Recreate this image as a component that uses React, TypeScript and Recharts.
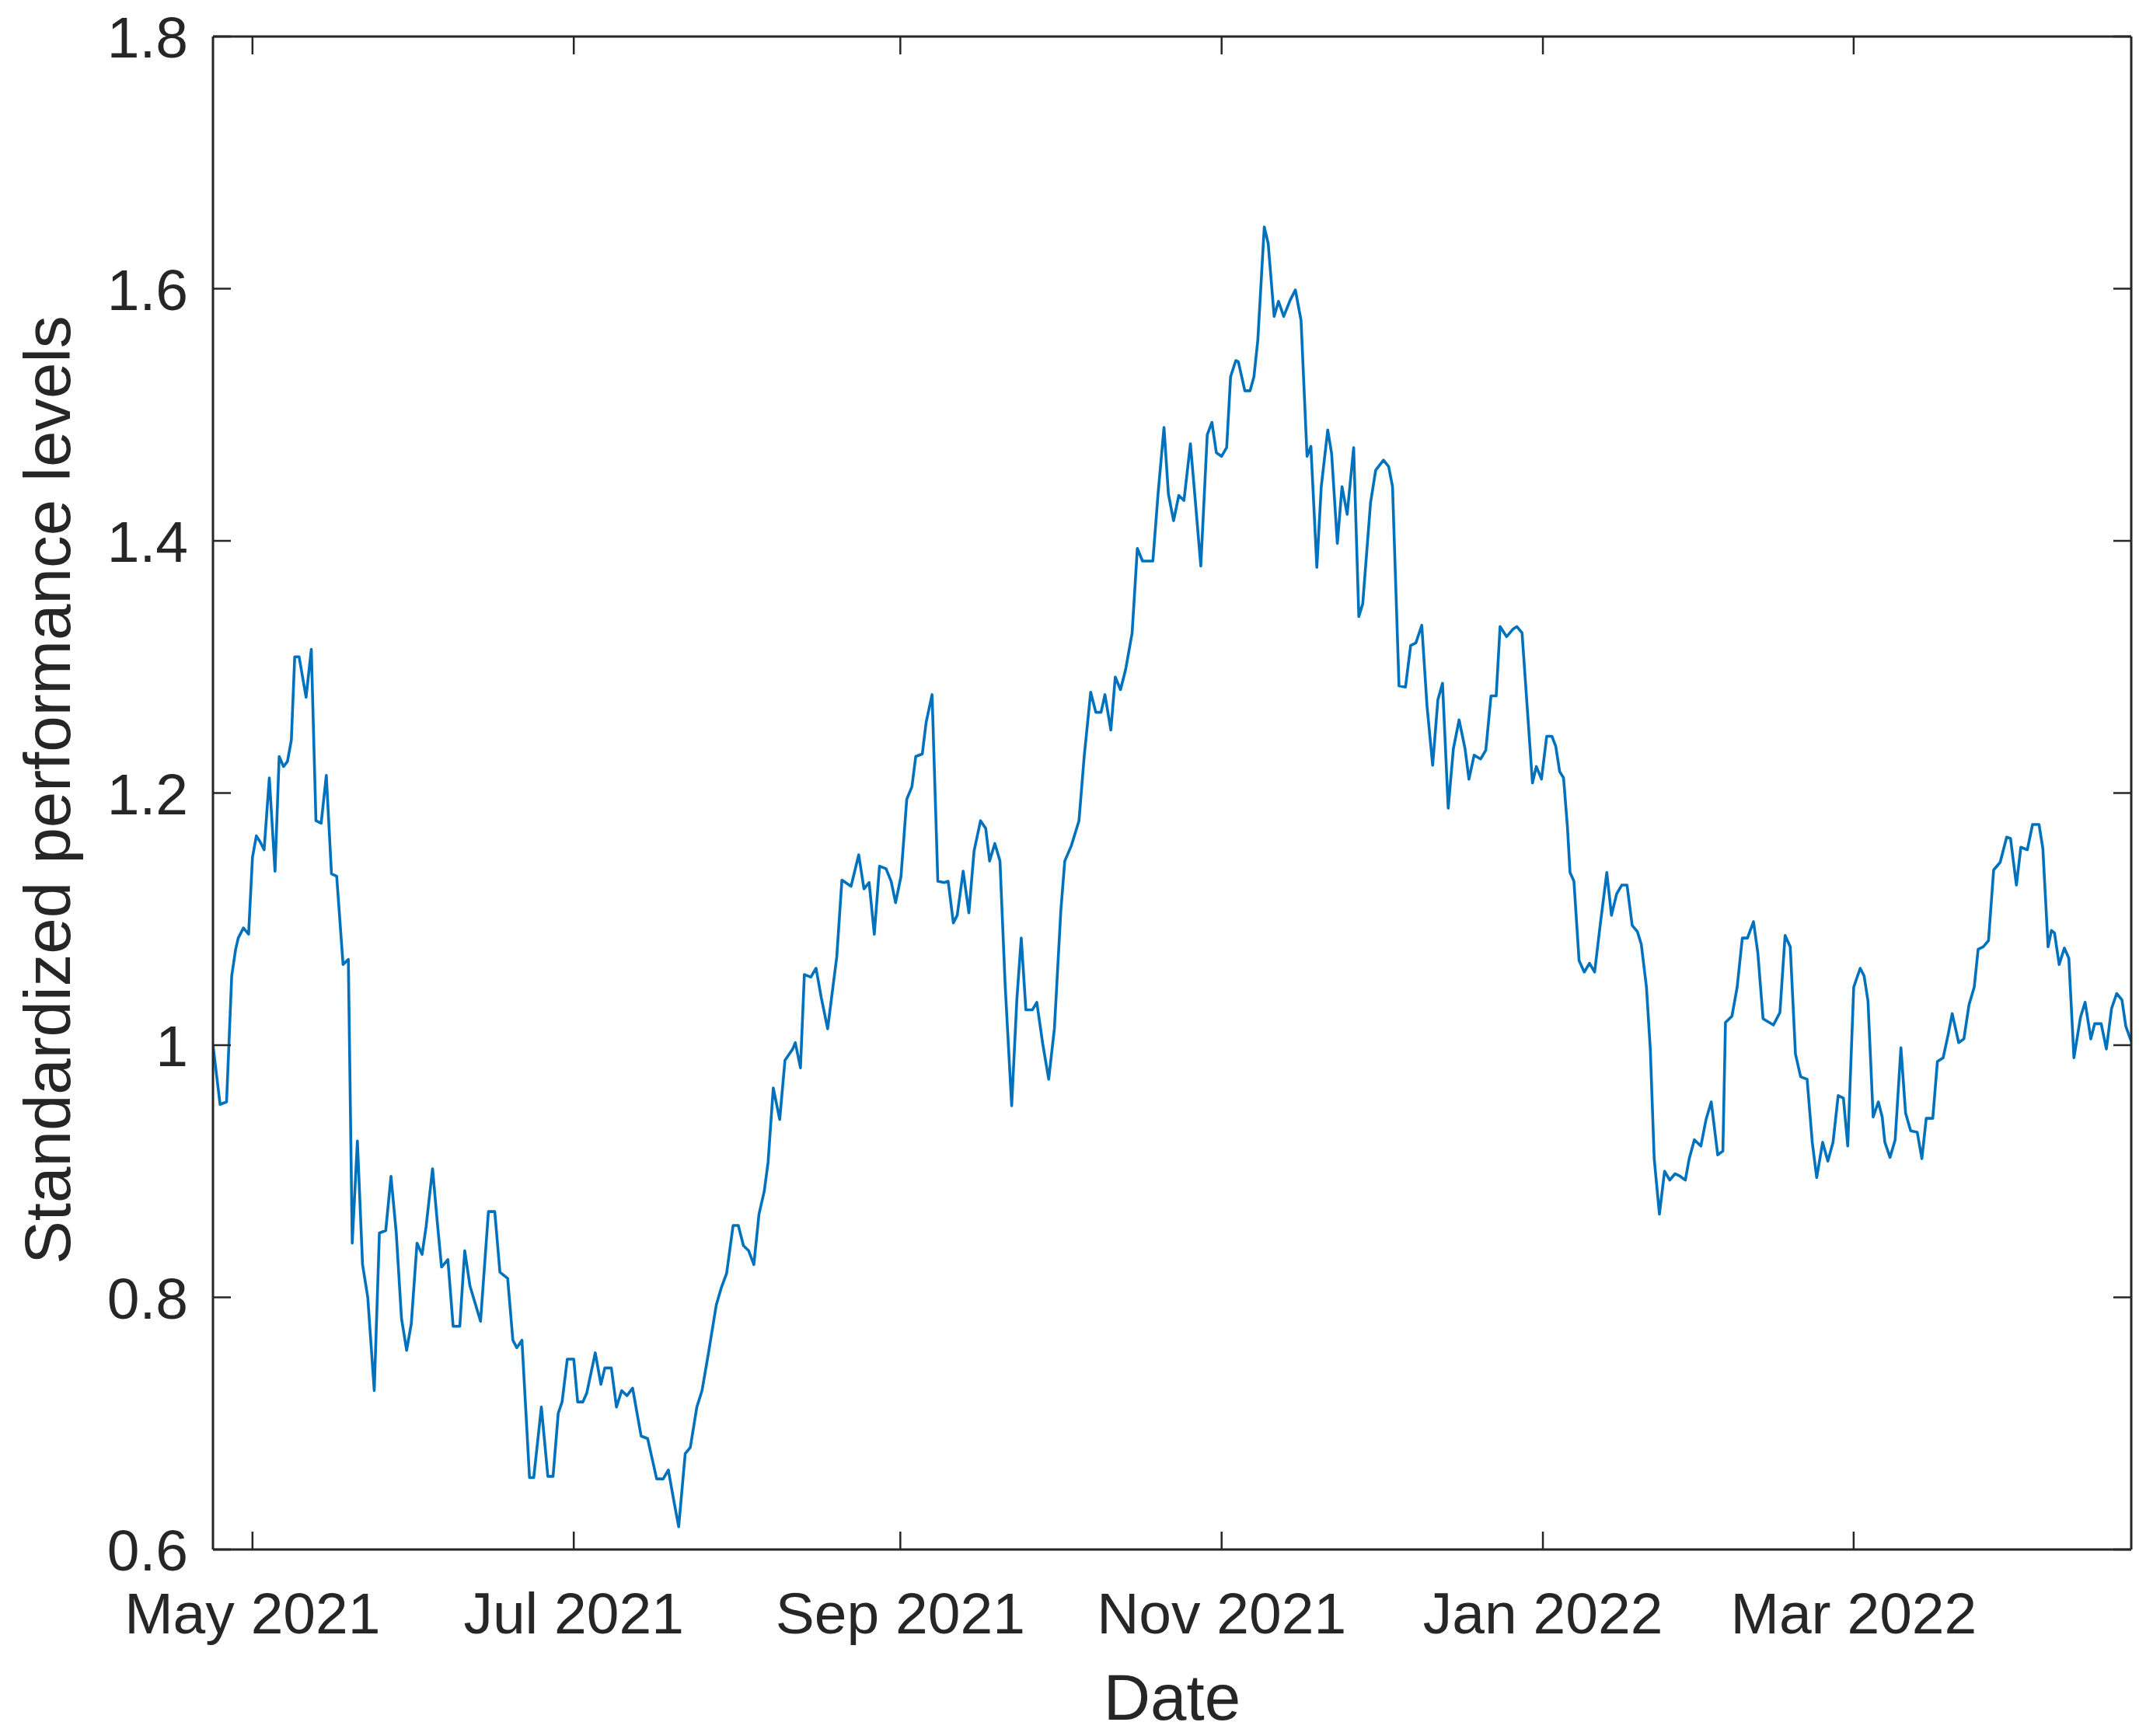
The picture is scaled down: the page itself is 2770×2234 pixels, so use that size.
import React from 'react';
import { LineChart, Line, XAxis, YAxis, Label } from 'recharts';

// ---------- data ----------
const BASE_DATE = '2021-05-01';

// days since 2021-05-01 for each observation
const dayOffsets = [
  // late Apr - Jun 2021
  -7.5, -6.15, -4.92, -3.94, -3.2, -2.7, -1.72, -0.74, 0, 0.74, 1.48, 2.21, 3.2, 4.28, 5.07, 5.9, 6.64, 7.38, 8.02, 8.85,
  10.18, 11.17, 12.05, 13.04, 14.02, 15.0, 15.99, 17.2, 18.2, 18.94, 19.92, 20.9, 21.89, 23.12, 24.1, 25.3, 26.3, 27.3, 28.3, 29.27,
  30.15, 31.24, 32.2, 32.96, 34.19, 35.17, 35.9, 37.1, 38.1, 39.36, 40.3, 41.3, 43.3, 44.8, 46.0, 46.98, 48.45, 49.44, 50.18, 51.16,
  52.6, 53.4,
  // Jun - Aug 2021
  54.85, 56.08, 57.07, 58.05, 58.78, 59.77, 61.0, 61.74, 62.72, 63.46, 65.08, 66.16, 66.9, 68.14, 69.11, 70.1, 71.09, 72.17, 73.79, 75.02,
  76.74, 77.97, 78.96, 79.94, 80.92, 82.16, 83.13, 84.37, 85.35, 86.58, 88.06, 89.04, 90.02, 91.25, 92.24, 93.22, 94.2, 95.19, 96.17, 97.16,
  97.89, 98.88, 100.1, 101.1, 102.57, 103.06, 104.04, 104.78, 106.01, 107.0, 107.98, 109.2, 110.93, 111.91, 113.64, 115.1, 116.1, 117.08, 118.06, 119.05,
  // Aug - Nov 2021
  120.28, 121.26, 122.1, 123.13, 124.22, 125.2, 125.93, 127.17, 127.9, 129.03, 130.12, 131.35, 132.08, 133.07, 133.8, 134.93, 136.02, 137.0, 138.23, 139.21,
  139.95, 140.94, 141.92, 142.9, 144.14, 145.12, 145.96, 146.84, 148.07, 148.91, 150.04, 151.17, 152.25, 153.48, 154.22, 155.45, 156.92, 157.91, 159.14, 160.12,
  161.11, 161.85, 162.97, 163.81, 164.8, 165.78, 167.01, 168.0, 168.98, 170.95, 171.93, 173.06, 173.9, 174.88, 175.87, 176.85, 178.08, 179.06, 180.05, 181.27,
  182.16, 183.0,
  // Nov 2021 - Jan 2022
  183.98, 184.96, 185.7, 186.69, 187.18, 188.41, 189.39, 190.13, 190.87, 192.1, 192.84, 193.97, 194.8, 195.79, 197.02, 198.0, 199.08, 200.22, 200.95, 202.08,
  202.92, 204.15, 204.89, 205.97, 206.86, 207.84, 209.07, 210.05, 210.79, 212.27, 213.25, 214.73, 215.71, 216.45, 217.68, 218.91, 219.89, 220.88, 222.0, 223.0,
  224.07, 225.06, 225.94, 227.02, 228.0, 229.09, 230.22, 230.96, 231.94, 233.18, 234.16, 235.14, 236.13, 236.87, 238.1, 239.33, 240.06, 241.04, 243.02, 243.75,
  244.73,
  // Jan - Mar 2022
  245.72, 246.71, 247.44, 248.18, 248.92, 249.66, 250.15, 250.89, 251.87, 252.86, 253.84, 254.82, 255.81, 257.13, 258.02, 259.0, 259.99, 260.97, 261.95, 262.94,
  263.68, 264.66, 265.4, 266.13, 267.12, 268.1, 269.09, 270.07, 271.06, 272.04, 272.78, 273.76, 274.99, 275.97, 276.96, 278.19, 279.17, 279.66, 280.89, 281.88,
  282.86, 283.84, 284.98, 285.81, 286.8, 288.77, 290.0, 290.98, 291.96, 292.95, 293.93, 295.16, 296.14, 296.98, 298.11, 299.1, 300.08, 301.06, 302.05, 302.88,
  304.01, 305.24, 305.98, 306.72, 307.7, 308.69, 309.42,
  // Mar - Apr 2022
  309.92, 310.9, 311.88, 312.97, 313.86, 314.83, 316.07, 316.95, 317.78, 319.02, 319.9, 320.99, 321.97, 322.71, 323.94, 324.93, 325.9, 326.89, 327.63, 328.61,
  329.6, 330.58, 331.81, 333.05, 333.78, 334.9, 335.74, 336.97, 337.96, 339.19, 339.92, 340.91, 341.55, 342.13, 343.02, 344.0, 344.85, 345.82, 347.06, 347.94,
  349.03, 349.76, 350.99, 351.98, 352.96, 353.94, 354.93, 355.67, 356.7,
];

// standardized performance level for each observation
const levels = [
  // late Apr - Jun 2021
  1.0, 0.953, 0.955, 1.055, 1.076, 1.085, 1.093, 1.088, 1.149, 1.166, 1.161, 1.155, 1.212, 1.138, 1.229, 1.221, 1.225, 1.242, 1.308, 1.308,
  1.276, 1.314, 1.178, 1.176, 1.214, 1.136, 1.134, 1.064, 1.068, 0.843, 0.924, 0.826, 0.8, 0.726, 0.851, 0.853, 0.896, 0.851, 0.783, 0.758,
  0.779, 0.843, 0.834, 0.856, 0.902, 0.856, 0.824, 0.83, 0.777, 0.777, 0.837, 0.809, 0.781, 0.868, 0.868, 0.82, 0.815, 0.766, 0.76, 0.766,
  0.657, 0.657,
  // Jun - Aug 2021
  0.713, 0.658, 0.658, 0.708, 0.717, 0.751, 0.751, 0.717, 0.717, 0.724, 0.756, 0.731, 0.744, 0.744, 0.713, 0.726, 0.722, 0.728, 0.69, 0.688,
  0.656, 0.656, 0.663, 0.64, 0.618, 0.676, 0.681, 0.713, 0.726, 0.756, 0.794, 0.808, 0.819, 0.857, 0.857, 0.841, 0.837, 0.826, 0.866, 0.884,
  0.907, 0.966, 0.941, 0.988, 0.997, 1.002, 0.982, 1.056, 1.054, 1.061, 1.038, 1.013, 1.07, 1.131, 1.126, 1.151, 1.124, 1.129, 1.088, 1.142,
  // Aug - Nov 2021
  1.14, 1.13, 1.113, 1.134, 1.195, 1.205, 1.229, 1.231, 1.256, 1.278, 1.13, 1.129, 1.13, 1.097, 1.103, 1.138, 1.105, 1.154, 1.178, 1.172,
  1.146, 1.16, 1.146, 1.048, 0.952, 1.036, 1.085, 1.028, 1.028, 1.034, 1.001, 0.973, 1.013, 1.107, 1.146, 1.158, 1.178, 1.229, 1.28, 1.264,
  1.264, 1.278, 1.25, 1.292, 1.282, 1.298, 1.327, 1.394, 1.384, 1.384, 1.437, 1.49, 1.437, 1.416, 1.436, 1.432, 1.477, 1.429, 1.38, 1.484,
  1.494, 1.47,
  // Nov 2021 - Jan 2022
  1.467, 1.474, 1.53, 1.543, 1.542, 1.519, 1.519, 1.53, 1.559, 1.649, 1.636, 1.578, 1.59, 1.578, 1.591, 1.599, 1.575, 1.467, 1.475, 1.379,
  1.443, 1.488, 1.469, 1.398, 1.443, 1.421, 1.474, 1.34, 1.35, 1.43, 1.456, 1.464, 1.459, 1.443, 1.285, 1.284, 1.317, 1.319, 1.333, 1.269,
  1.222, 1.274, 1.287, 1.188, 1.235, 1.258, 1.235, 1.211, 1.23, 1.227, 1.234, 1.277, 1.277, 1.332, 1.324, 1.33, 1.332, 1.327, 1.208, 1.221,
  1.211,
  // Jan - Mar 2022
  1.245, 1.245, 1.237, 1.217, 1.212, 1.173, 1.137, 1.13, 1.067, 1.058, 1.065, 1.058, 1.093, 1.137, 1.103, 1.12, 1.127, 1.127, 1.095, 1.09,
  1.08, 1.046, 0.996, 0.91, 0.866, 0.9, 0.893, 0.898, 0.896, 0.893, 0.91, 0.925, 0.92, 0.941, 0.955, 0.913, 0.916, 1.018, 1.023, 1.046,
  1.085, 1.085, 1.098, 1.073, 1.021, 1.016, 1.026, 1.087, 1.078, 0.993, 0.975, 0.973, 0.923, 0.895, 0.923, 0.908, 0.923, 0.96, 0.958, 0.92,
  1.046, 1.061, 1.055, 1.035, 0.943, 0.955, 0.943,
  // Mar - Apr 2022
  0.923, 0.911, 0.925, 0.998, 0.946, 0.932, 0.931, 0.91, 0.942, 0.942, 0.987, 0.99, 1.009, 1.025, 1.002, 1.005, 1.032, 1.046, 1.076, 1.078,
  1.083, 1.139, 1.145, 1.165, 1.164, 1.127, 1.157, 1.155, 1.175, 1.175, 1.156, 1.078, 1.091, 1.089, 1.064, 1.077, 1.069, 0.99, 1.022, 1.034,
  1.005, 1.017, 1.017, 0.997, 1.029, 1.041, 1.036, 1.015, 1.003,
];

const xTickDates = ['2021-05-01', '2021-07-01', '2021-09-01', '2021-11-01', '2022-01-01', '2022-03-01'];
const xTickLabels = ['May 2021', 'Jul 2021', 'Sep 2021', 'Nov 2021', 'Jan 2022', 'Mar 2022'];
const xDomain = [-7.5, 356.7];

const yTicks = [0.6, 0.8, 1, 1.2, 1.4, 1.6, 1.8];
const yTickLabels = ['0.6', '0.8', '1', '1.2', '1.4', '1.6', '1.8'];
const yDomain = [0.6, 1.8];

const xLabel = 'Date';
const yLabel = 'Standardized performance levels';

// ---------- helpers ----------
const DAY_MS = 86400000;
const dayOf = (d: string) => (Date.parse(d) - Date.parse(BASE_DATE)) / DAY_MS;
const xTicks = xTickDates.map(dayOf);

const data = dayOffsets.map((d, i) => ({ d, v: levels[i] }));

const AXIS_COLOR = '#262626';
const FONT = '"Liberation Sans", Arial, Helvetica, sans-serif';
const TICK_FONT = 75;
const LABEL_FONT = 83.5;
const TICK_LEN = 23;

const labelFor = (vals: number[], labels: string[], v: number) => {
  let best = 0;
  for (let i = 0; i < vals.length; i++) {
    if (Math.abs(vals[i] - v) < Math.abs(vals[best] - v)) best = i;
  }
  return labels[best];
};

const BottomTick = (props: any) => {
  const { x, y, payload } = props;
  return (
    <g>
      <line x1={x} y1={y} x2={x} y2={y - TICK_LEN} stroke={AXIS_COLOR} strokeWidth={2.5} />
      <text x={x} y={y + 108} textAnchor="middle" fill={AXIS_COLOR} fontFamily={FONT} fontSize={TICK_FONT}>
        {labelFor(xTicks, xTickLabels, payload.value)}
      </text>
    </g>
  );
};

const TopTick = (props: any) => {
  const { x, y } = props;
  return <line x1={x} y1={y} x2={x} y2={y + TICK_LEN} stroke={AXIS_COLOR} strokeWidth={2.5} />;
};

const LeftTick = (props: any) => {
  const { x, y, payload } = props;
  return (
    <g>
      <line x1={x} y1={y} x2={x + TICK_LEN} y2={y} stroke={AXIS_COLOR} strokeWidth={2.5} />
      <text x={x - 32} y={y + 27} textAnchor="end" fill={AXIS_COLOR} fontFamily={FONT} fontSize={TICK_FONT}>
        {labelFor(yTicks, yTickLabels, payload.value)}
      </text>
    </g>
  );
};

const RightTick = (props: any) => {
  const { x, y } = props;
  return <line x1={x} y1={y} x2={x - TICK_LEN} y2={y} stroke={AXIS_COLOR} strokeWidth={2.5} />;
};

const XTitle = (props: any) => {
  const vb = props.viewBox || {};
  return (
    <text
      x={vb.x + vb.width / 2}
      y={vb.y + 219}
      textAnchor="middle"
      fill={AXIS_COLOR}
      fontFamily={FONT}
      fontSize={LABEL_FONT}
    >
      {xLabel}
    </text>
  );
};

const YTitle = (props: any) => {
  const vb = props.viewBox || {};
  const cx = 90;
  const cy = vb.y + vb.height / 2 - 4;
  return (
    <text
      x={cx}
      y={cy}
      transform={`rotate(-90, ${cx}, ${cy})`}
      textAnchor="middle"
      fill={AXIS_COLOR}
      fontFamily={FONT}
      fontSize={LABEL_FONT}
    >
      {yLabel}
    </text>
  );
};

const axisLine = { stroke: AXIS_COLOR, strokeWidth: 3 };

export default function App() {
  return (
    <div style={{ position: 'absolute', left: 0, top: 0, width: 2770, height: 2234, background: '#ffffff' }}>
      <LineChart
        width={2770}
        height={2234}
        data={data}
        margin={{ top: 46, right: 27, bottom: 0, left: 0 }}
      >
        <XAxis
          xAxisId="b"
          dataKey="d"
          type="number"
          domain={xDomain}
          allowDataOverflow
          ticks={xTicks}
          interval={0}
          height={240}
          tickSize={0}
          tickMargin={0}
          tickLine={false}
          axisLine={axisLine}
          tick={BottomTick}
        >
          <Label content={XTitle} />
        </XAxis>
        <XAxis
          xAxisId="t"
          orientation="top"
          dataKey="d"
          type="number"
          domain={xDomain}
          allowDataOverflow
          ticks={xTicks}
          interval={0}
          height={1}
          tickSize={0}
          tickMargin={0}
          tickLine={false}
          axisLine={axisLine}
          tick={TopTick}
        />
        <YAxis
          yAxisId="l"
          type="number"
          domain={yDomain}
          allowDataOverflow
          ticks={yTicks}
          interval={0}
          width={274}
          tickSize={0}
          tickMargin={0}
          tickLine={false}
          axisLine={axisLine}
          tick={LeftTick}
        >
          <Label content={YTitle} />
        </YAxis>
        <YAxis
          yAxisId="r"
          orientation="right"
          type="number"
          domain={yDomain}
          allowDataOverflow
          ticks={yTicks}
          interval={0}
          width={1}
          tickSize={0}
          tickMargin={0}
          tickLine={false}
          axisLine={axisLine}
          tick={RightTick}
        />
        <Line
          xAxisId="b"
          yAxisId="l"
          dataKey="v"
          type="linear"
          stroke="#0072BD"
          strokeWidth={3.6}
          strokeLinejoin="round"
          dot={false}
          activeDot={false}
          isAnimationActive={false}
        />
      </LineChart>
    </div>
  );
}
